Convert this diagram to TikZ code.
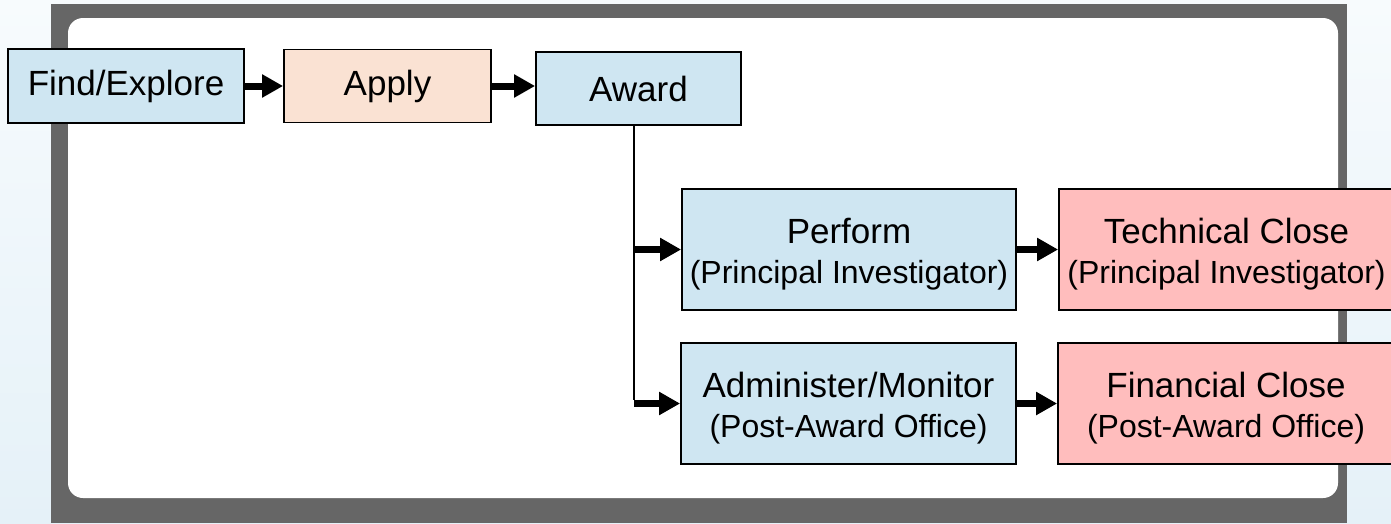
\documentclass[tikz,border=0pt]{standalone}
\usepackage{fontspec}
\setmainfont{Liberation Sans}
\usetikzlibrary{arrows.meta}

\definecolor{boxblue}{RGB}{207,230,242}
\definecolor{boxpeach}{RGB}{250,226,211}
\definecolor{boxpink}{RGB}{255,189,189}
\definecolor{framegray}{RGB}{102,102,102}
\definecolor{bgtop}{RGB}{247,251,253}
\definecolor{bgbottom}{RGB}{229,241,248}

\newcommand\mainsize{\fontsize{35}{40}\selectfont}
\newcommand\subsize{\fontsize{32}{40}\selectfont}
% invisible rule that lifts the first line of a two-line label
\newcommand\toplift{\rule{0pt}{34.5pt}}

\begin{document}
\begin{tikzpicture}[x=1pt,y=-1pt,
  stage/.style={draw=black, line width=1.8pt, inner sep=0pt, align=center,
                font=\mainsize, text=black},
  blue/.style={stage, fill=boxblue},
  peach/.style={stage, fill=boxpeach},
  pink/.style={stage, fill=boxpink},
  flow/.style={line width=7pt, -{Triangle[length=21pt,width=22pt]}},
  branch/.style={line width=2pt}]

  \useasboundingbox (0,0) rectangle (1391,523);

  % slide background, grey frame and white panel
  \shade[top color=bgtop, bottom color=bgbottom] (0,0) rectangle (1391,523);
  \fill[framegray] (51,4) rectangle (1347,523);
  \fill[white, rounded corners=15pt] (68,18) rectangle (1338,498);

  % top row
  \node[blue,  minimum width=236pt, minimum height=74pt] (find)  at (126,86)   {Find/Explore};
  \node[peach, minimum width=207pt, minimum height=73pt] (apply) at (387.5,86) {Apply};
  \node[blue,  minimum width=205pt, minimum height=73pt] (award) at (638.5,88.5) {Award};

  % post-award stages
  \node[blue, minimum width=334pt, minimum height=121pt] (perform) at (849,249.5)
    {\toplift Perform\\{\subsize (Principal Investigator)}};
  \node[blue, minimum width=335pt, minimum height=121pt] (admin) at (848.5,403.5)
    {\toplift Administer/Monitor\\{\subsize (Post-Award Office)}};
  \node[pink, minimum width=335pt, minimum height=121pt] (tech) at (1226.5,249.5)
    {\toplift Technical Close\\{\subsize (Principal Investigator)}};
  \node[pink, minimum width=336pt, minimum height=121pt] (fin) at (1226,403.5)
    {\toplift Financial Close\\{\subsize (Post-Award Office)}};

  % connectors
  \draw[flow] (find.east) -- (apply.west);
  \draw[flow] (apply.east) -- (apply.east -| award.west);

  \coordinate (split) at (634,0);
  \draw[branch] (award.south -| split) -- ([yshift=3.5pt]admin.west -| split);
  \draw[flow] (perform.west -| split) -- (perform.west);
  \draw[flow] (admin.west -| split) -- (admin.west);

  \draw[flow] (perform.east) -- (tech.west);
  \draw[flow] (admin.east) -- (fin.west);
\end{tikzpicture}
\end{document}
